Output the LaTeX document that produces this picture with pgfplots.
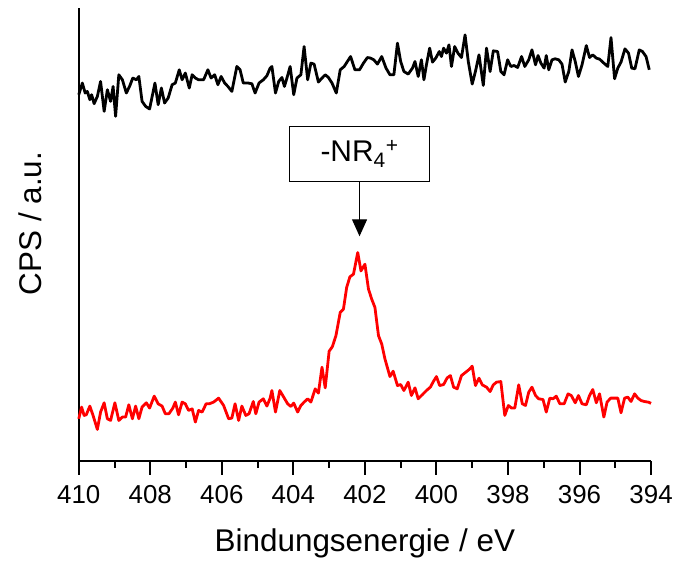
\documentclass[border=0pt]{standalone}
\usepackage{pgfplots}
\pgfplotsset{compat=1.18}
\usetikzlibrary{arrows.meta}
\usepackage{fontspec}
\setmainfont{Liberation Sans}
\begin{document}
\begin{tikzpicture}
\begin{axis}[
  scale only axis,
  width=574bp, height=454bp,
  xmin=394, xmax=410, x dir=reverse,
  ymin=8, ymax=462,
  axis x line*=bottom, axis y line*=left,
  axis line style={line width=2.2bp, -},
  xtick={394,396,...,410},
  minor x tick num=1,
  ytick=\empty,
  tick align=outside,
  major tick length=14bp, minor tick length=7bp,
  every tick/.style={black, line width=2bp},
  /pgf/number format/assume math mode=true,
  xticklabel style={font=\fontsize{26bp}{30bp}\selectfont, yshift=-7bp},
  xlabel={Bindungsenergie / eV},
  ylabel={CPS / a.u.},
  label style={font=\fontsize{31.5bp}{36bp}\selectfont},
  xlabel style={at={(axis description cs:0.5,0)}, anchor=base, yshift=-91bp},
  ylabel style={at={(axis description cs:-0.085,0.524)}, anchor=center},
  clip=false,
]
\addplot[black, line width=2.8bp, line join=round] coordinates {
(410.00,375) (409.90,386.7) (409.82,376.7) (409.76,378.3) (409.69,370) (409.64,375)
(409.57,366) (409.48,373.3) (409.39,388.3) (409.29,358.3) (409.20,380) (409.11,368.3)
(409.04,383.3) (408.97,353.3) (408.88,395) (408.78,390) (408.67,376.7) (408.58,383.3)
(408.49,391.7) (408.39,390) (408.32,393.3) (408.23,368.3) (408.13,363.3) (408.02,360.7)
(407.87,386.7) (407.78,365) (407.69,381.7) (407.60,366.7) (407.50,371.7) (407.39,385)
(407.30,386.7) (407.19,400) (407.11,390) (407.02,396.7) (406.91,381.7) (406.83,395)
(406.74,391.7) (406.65,390) (406.51,390) (406.39,400) (406.30,391.7) (406.20,395)
(406.11,385) (406.02,393.3) (405.92,386.7) (405.83,383.3) (405.72,378.3) (405.58,403.3)
(405.49,400) (405.40,386.7) (405.26,386.7) (405.16,386) (405.07,376.7) (404.96,386.7)
(404.84,390) (404.74,394) (404.65,401.7)
(404.60,403.3) (404.50,376.7) (404.41,388.3) (404.32,392.3) (404.25,383.3) (404.18,391.7)
(404.09,403.3) (403.99,375) (403.90,391.7) (403.79,395) (403.70,423.3) (403.60,390)
(403.51,406.7) (403.42,405.7) (403.30,387.7) (403.20,391.7) (403.11,395) (403.02,392.3)
(402.92,386.7) (402.80,376.7) (402.69,400) (402.58,403.3) (402.49,408.3) (402.40,413.3)
(402.28,400) (402.15,400) (402.04,406.7) (401.93,412.3) (401.84,411.7) (401.75,410)
(401.65,405.7) (401.53,413.3) (401.41,401.7) (401.30,395) (401.19,395) (401.09,426.7)
(401.00,408.3) (400.91,398.3) (400.79,395.7) (400.67,401.7) (400.60,408.3) (400.51,393.3)
(400.42,410) (400.35,390) (400.28,405) (400.19,421.7) (400.11,407.7) (400.02,411.7)
(399.92,418.3) (399.86,413.3) (399.80,421.7) (399.72,416.7) (399.65,425) (399.58,403.3)
(399.49,423.3) (399.40,416.7) (399.30,412.3)
(399.20,435) (399.11,408.3) (399.00,385.7) (398.91,398.3) (398.81,415) (398.69,384.3)
(398.60,421.7) (398.50,398.3) (398.41,419) (398.29,418.3) (398.20,398.3) (398.11,395)
(398.01,410) (397.92,403.3) (397.83,404.3) (397.73,402.3) (397.62,413.3) (397.53,403.3)
(397.42,410) (397.33,420) (397.23,405) (397.16,414.3) (397.08,406.7) (396.99,401.7)
(396.93,414.3) (396.86,400) (396.77,410) (396.68,411) (396.58,410) (396.49,405.7)
(396.40,387.7) (396.30,398.3) (396.21,420) (396.12,408.3) (396.03,393.3) (395.93,405)
(395.81,424.3) (395.72,412.3) (395.63,415) (395.53,411.7) (395.44,410.7) (395.32,406.7)
(395.21,403.3) (395.12,432.3) (395.02,391) (394.93,401.7) (394.84,407.7) (394.73,421)
(394.63,416.7) (394.54,401.7) (394.45,401) (394.33,420) (394.24,418.3) (394.14,413.3)
(394.05,400)
};
\addplot[red, line width=2.8bp, line join=round] coordinates {
(410.00,50) (409.92,61.7) (409.85,53.3) (409.79,54) (409.69,62.7) (409.60,53.3)
(409.48,39.3) (409.39,56.7) (409.29,66) (409.20,50) (409.11,48.3) (408.99,66)
(408.88,48.3) (408.78,51.7) (408.69,51.7) (408.60,64) (408.50,50) (408.41,62.7)
(408.32,50) (408.23,61.7) (408.11,66) (408.02,60.7) (407.89,72.7) (407.78,65)
(407.67,62.7) (407.58,55) (407.48,55) (407.37,60.7) (407.30,66.7) (407.21,54)
(407.11,66.7) (407.02,65) (406.93,58.3) (406.83,60) (406.74,46.7) (406.65,58.3)
(406.55,56.7) (406.44,65) (406.35,65) (406.23,66.7) (406.09,70.7) (405.95,63.3)
(405.81,50) (405.72,50.7) (405.63,65) (405.53,48.3) (405.44,62.7) (405.33,53.3)
(405.24,55) (405.12,67.3) (405.05,55) (404.96,66.7) (404.84,70) (404.74,62.7)
(404.65,70.7)
(404.60,78.3) (404.50,56.7) (404.38,78.3) (404.27,71.7) (404.16,65) (404.07,62.3)
(403.99,65.7) (403.88,56.7) (403.79,63.3) (403.70,66.7) (403.60,70) (403.51,66.7)
(403.39,80) (403.30,75.7) (403.20,101.7) (403.11,81) (403.00,117.7) (402.91,122.3)
(402.81,133.3) (402.69,156.7) (402.60,160) (402.51,181.7) (402.42,192.3) (402.32,195)
(402.25,207.7) (402.20,216.7) (402.11,198.3) (402.00,205) (401.90,180) (401.81,170)
(401.72,161.7) (401.62,133.3) (401.53,125) (401.44,110) (401.30,92.3) (401.21,97.7)
(401.09,83.3) (401.00,84.3) (400.91,78.3) (400.79,86.7) (400.70,73.3) (400.60,81)
(400.51,70) (400.39,74.3) (400.28,78.3) (400.17,81.7) (400.08,87.7) (400.00,92.3)
(399.91,83.3) (399.80,84.3) (399.70,91) (399.61,93.3) (399.52,81.7) (399.42,80)
(399.30,93.3)
(399.18,96.7) (399.09,99.3) (399.00,102.7) (398.91,83.3) (398.81,90.7) (398.72,84)
(398.60,81.7) (398.50,77.3) (398.41,84) (398.32,86.7) (398.20,87.3) (398.09,53.3)
(397.99,63.3) (397.90,60.7) (397.81,60.7) (397.70,84) (397.60,65) (397.51,63.3)
(397.42,76.7) (397.33,81.7) (397.23,73.3) (397.14,70) (397.02,69.3) (396.93,56.7)
(396.83,70.7) (396.74,70) (396.65,72.7) (396.55,65) (396.43,65) (396.32,75)
(396.23,73.3) (396.12,66) (396.03,73.3) (395.93,65) (395.81,64) (395.72,73.3)
(395.63,79.3) (395.53,66) (395.44,75) (395.32,51.7) (395.23,66.7) (395.13,70.7)
(395.02,70.7) (394.93,70.7) (394.84,56) (394.74,70.7) (394.65,71.7) (394.56,67.3)
(394.46,75) (394.37,70.7) (394.28,68.3) (394.19,67.3) (394.08,66.7) (394.00,65.5)
};
\node[draw=black, line width=1.2bp, minimum width=140bp, minimum height=55bp,
      font=\fontsize{30bp}{34bp}\selectfont, inner sep=0pt]
  at (axis cs:402.15,315.5) {-NR\textsubscript{4}\textsuperscript{+}};
\draw[line width=1.2bp, -{Triangle[length=17bp,width=15bp]}]
  (axis cs:402.15,288) -- (axis cs:402.15,233);
\end{axis}
\path (current axis.south west) ++(-79bp,-101bp) rectangle ++(676bp,563bp);
\end{tikzpicture}
\end{document}
